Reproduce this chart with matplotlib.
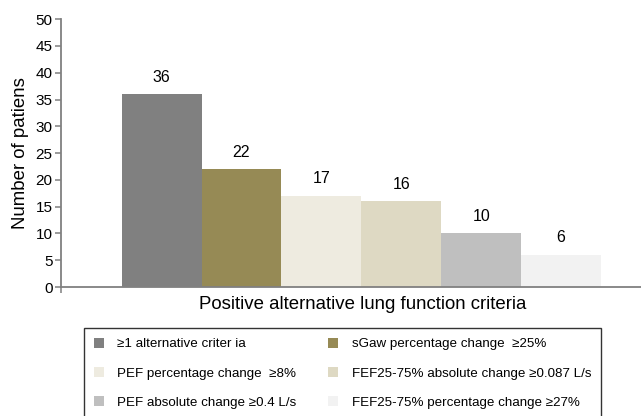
import matplotlib
matplotlib.use("Agg")
import matplotlib.pyplot as plt
from matplotlib.patches import Patch

plt.rcParams['font.family'] = ['Liberation Sans', 'DejaVu Sans']

# Data
categories = [
    "≥1 alternative criter ia",
    "sGaw percentage change  ≥25%",
    "PEF percentage change  ≥8%",
    "FEF25-75% absolute change ≥0.087 L/s",
    "PEF absolute change ≥0.4 L/s",
    "FEF25-75% percentage change ≥27%",
]
patients = [36, 22, 17, 16, 10, 6]
colors = ["#808080", "#968a55", "#eeebe0", "#ded9c3", "#bfbfbf", "#f2f2f2"]
y_ticks = list(range(0, 55, 5))

fig = plt.figure(figsize=(6.41, 4.16), dpi=100)
ax = fig.add_axes([0.095, 0.31, 0.905, 0.644])

x = list(range(len(patients)))
ax.bar(x, patients, width=1.0, color=colors, edgecolor="none")

# Value labels
for xi, v in zip(x, patients):
    ax.text(xi, v + 1.8, str(v), ha="center", va="bottom", fontsize=11.5)

ax.set_xlim(-1.26, 6.0)
ax.set_ylim(0, 50)
ax.set_yticks(y_ticks)
ax.tick_params(axis="y", labelsize=11, length=4, color="#808080", width=1.1, pad=2)
ax.set_xticks([-1.26])
ax.set_xticklabels([""])
ax.tick_params(axis="x", length=4, color="#808080", width=1.1)

for side in ["top", "right"]:
    ax.spines[side].set_visible(False)
for side in ["left", "bottom"]:
    ax.spines[side].set_color("#808080")
    ax.spines[side].set_linewidth(1.3)

ax.set_ylabel("Number of patiens", fontsize=13.4, labelpad=5)
ax.set_xlabel("Positive alternative lung function criteria", fontsize=13.4)
# centre the x label over the bars rather than the whole axis
ax.xaxis.set_label_coords(0.52, -0.033, transform=ax.transAxes)
ax.xaxis.label.set_va("top")

# Legend, row-major order over 2 columns
handles = [Patch(facecolor=c, edgecolor="none") for c in colors]
order = [0, 2, 4, 1, 3, 5]
leg = fig.legend(
    [handles[i] for i in order], [categories[i] for i in order],
    ncol=2, loc="upper left", bbox_to_anchor=(0.131, -0.2, 0.807, 0.412),
    mode="expand", fontsize=9.6, frameon=True, fancybox=False,
    edgecolor="black", handlelength=0.75, handleheight=0.75,
    handletextpad=1.0, labelspacing=1.25, borderpad=0.75, borderaxespad=0,
)
leg.get_frame().set_linewidth(1.0)

fig.savefig("out.png", dpi=100)
